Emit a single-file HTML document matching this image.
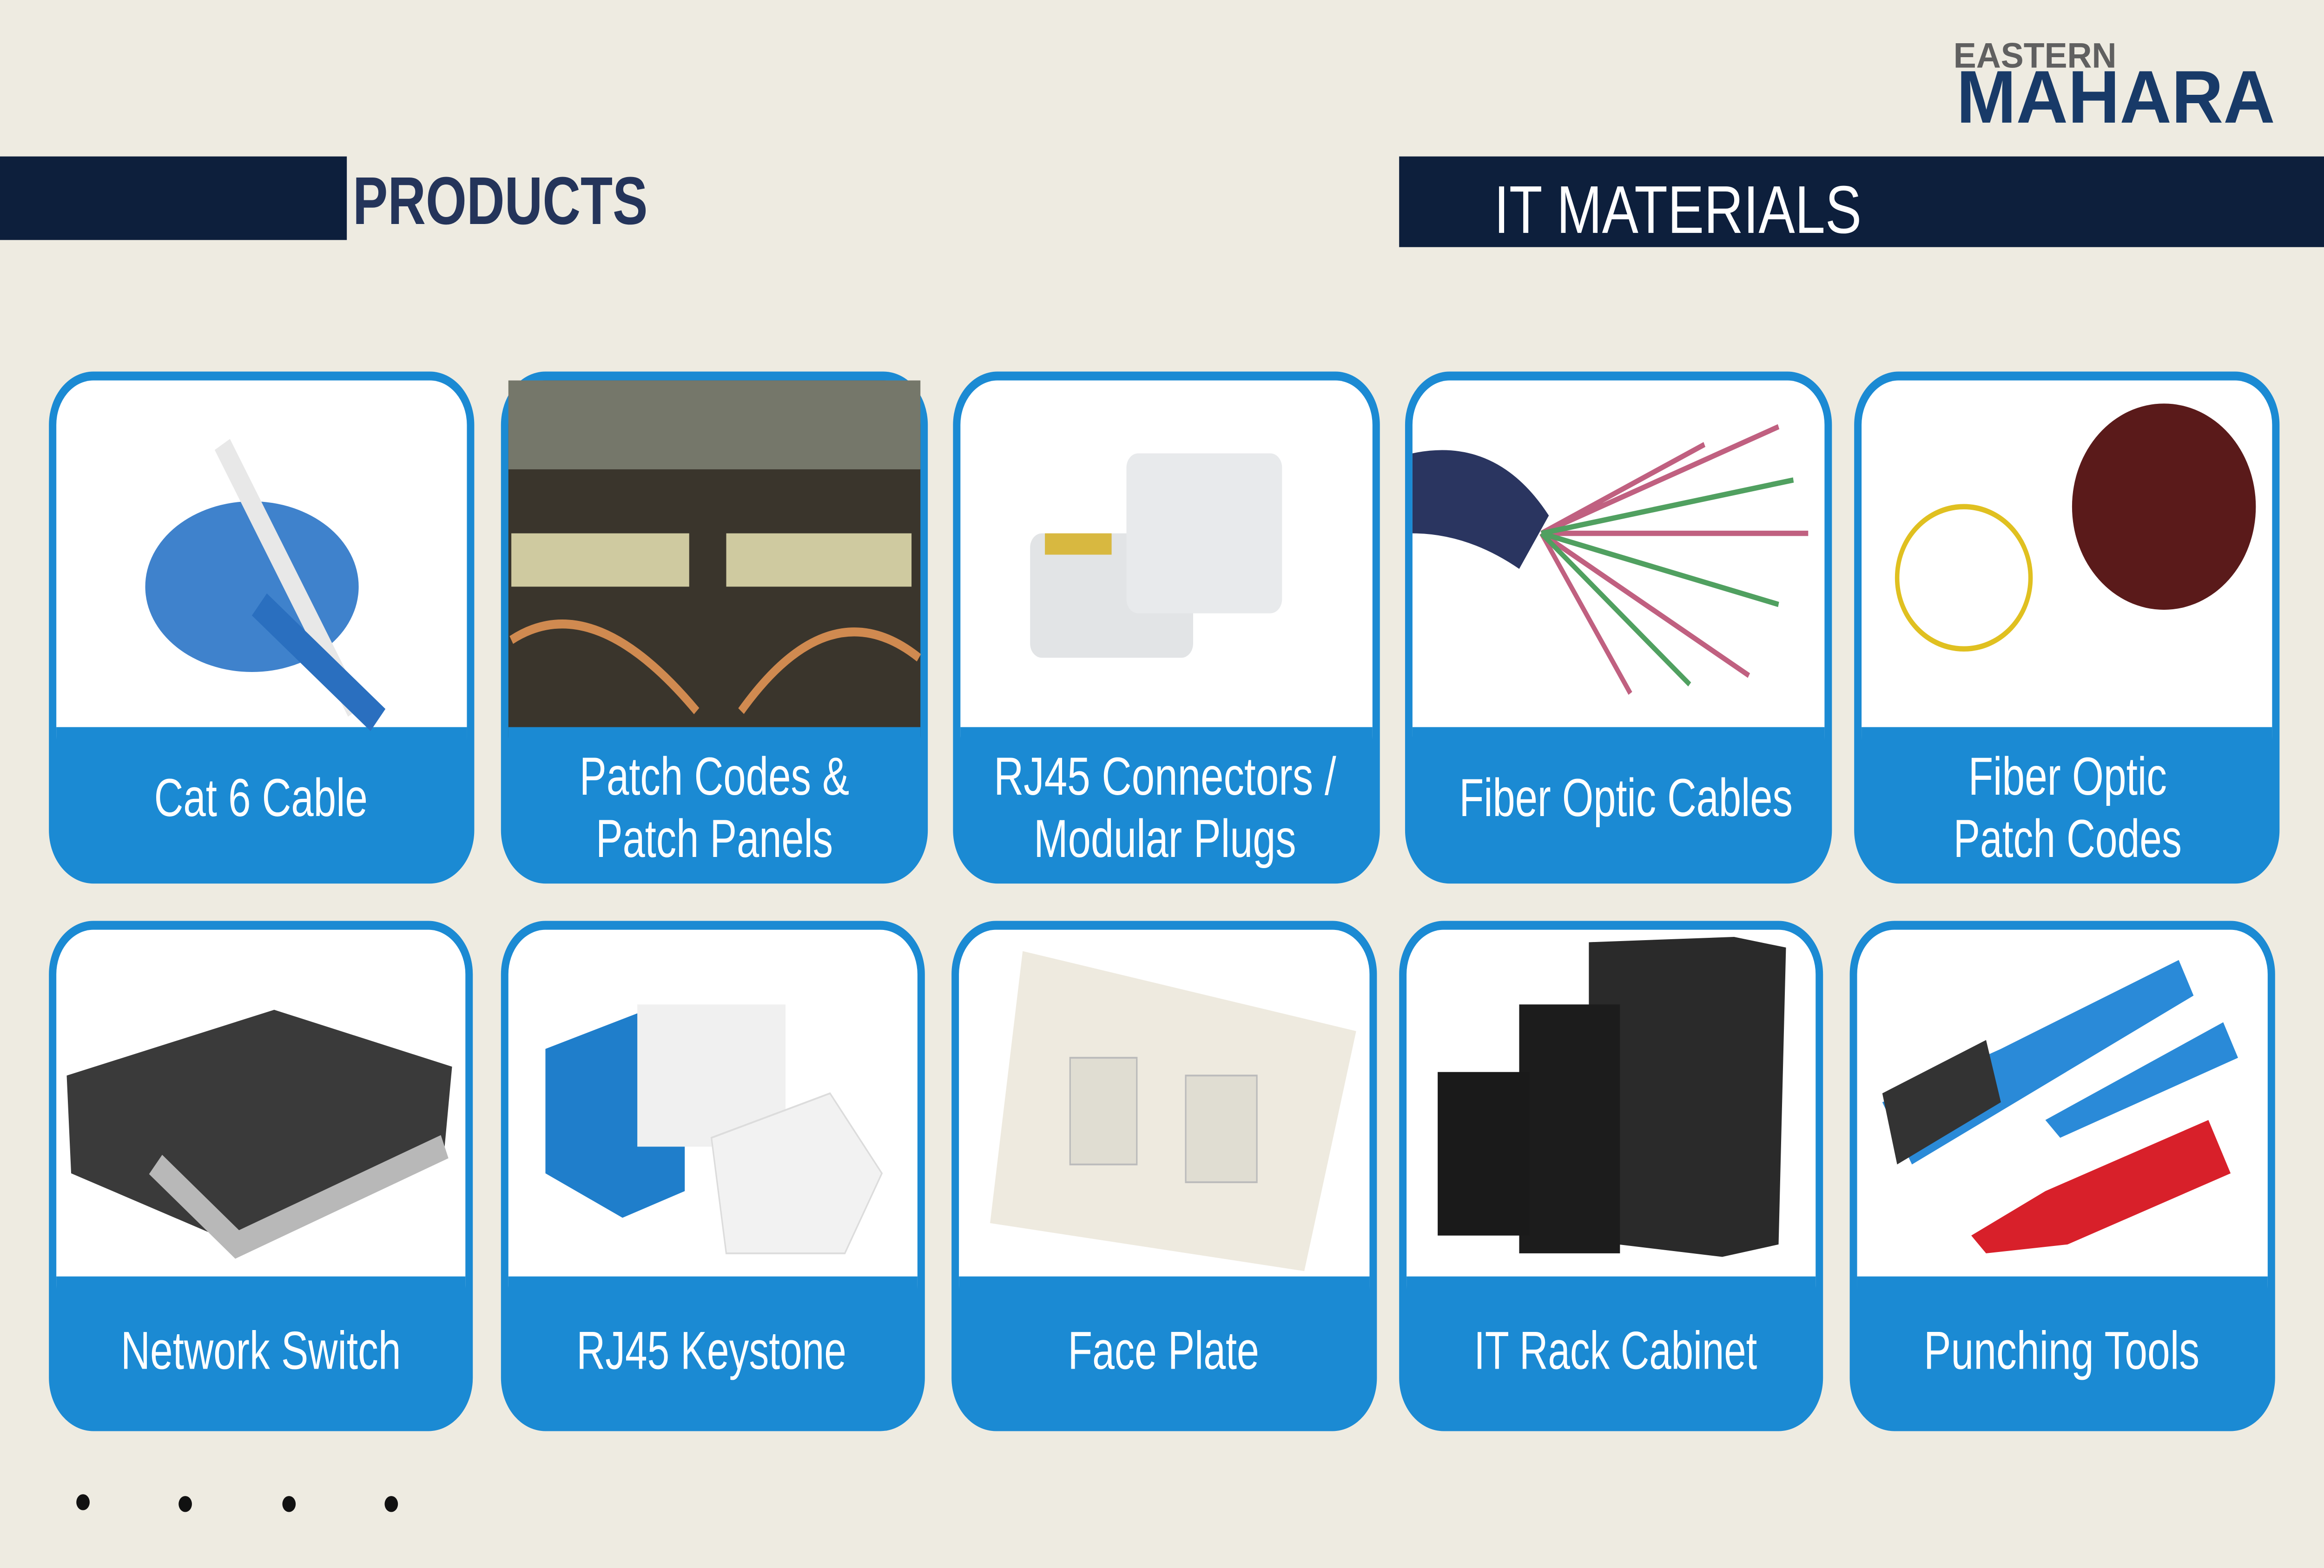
<!DOCTYPE html>
<html><head><meta charset="utf-8"><style>
html,body{margin:0;padding:0;background:#eeebe1;width:100%;height:100%;overflow:hidden;}
svg{display:block;position:fixed;left:0;top:0;width:100vw;height:100vh;}
text{font-family:"Liberation Sans Narrow","Liberation Sans",sans-serif;}
</style></head><body>
<svg viewBox="0 0 1568 882" preserveAspectRatio="none" xmlns="http://www.w3.org/2000/svg">
<rect width="1568" height="882" fill="#eeebe1"/>
<rect x="0" y="88" width="234" height="47" fill="#0d1f3c"/>
<text x="238" y="126" font-size="38" font-weight="bold" fill="#24345a" textLength="199" lengthAdjust="spacingAndGlyphs" style="font-family:'Liberation Sans',sans-serif">PRODUCTS</text>
<rect x="944" y="88" width="624" height="51" fill="#0d1f3c"/>
<text x="1008" y="131" font-size="38" fill="#fff" textLength="248" lengthAdjust="spacingAndGlyphs" style="font-family:'Liberation Sans',sans-serif">IT MATERIALS</text>
<text x="1318" y="38" font-size="20" font-weight="bold" fill="#606060" textLength="110" lengthAdjust="spacingAndGlyphs" style="font-family:'Liberation Sans',sans-serif">EASTERN</text>
<text x="1320" y="69" font-size="42" font-weight="bold" fill="#183a68" textLength="215" lengthAdjust="spacingAndGlyphs" style="font-family:'Liberation Sans',sans-serif">MAHARA</text>

<g>
<rect x="33" y="209" width="287" height="288" rx="30" fill="#1b8ad3"/>
<rect x="38" y="214" width="277" height="225" rx="25" fill="#fff"/><rect x="38" y="409" width="277" height="40" fill="#1b8ad3"/>
<ellipse cx="170" cy="330" rx="72" ry="48" fill="#3f82cc"/>
<path d="M150 250 L240 400" stroke="#e8e8e8" stroke-width="12"/><path d="M175 340 L255 405" stroke="#2a6fbf" stroke-width="16"/>
<text x="176" y="459" font-size="30" fill="#fff" text-anchor="middle" textLength="144" lengthAdjust="spacingAndGlyphs">Cat 6 Cable</text>

<rect x="338" y="209" width="288" height="288" rx="30" fill="#1b8ad3"/>
<rect x="343" y="214" width="278" height="225" rx="25" fill="#3a352c"/><rect x="343" y="409" width="278" height="40" fill="#1b8ad3"/>
<rect x="343" y="214" width="278" height="50" fill="#75776a"/>
<rect x="345" y="300" width="120" height="30" fill="#cfcaa0"/><rect x="490" y="300" width="125" height="30" fill="#cfcaa0"/>
<path d="M345 360 Q400 330 470 400 M500 400 Q560 330 620 370" stroke="#d08a50" stroke-width="5" fill="none"/>
<text x="482" y="447" font-size="30" fill="#fff" text-anchor="middle" textLength="182" lengthAdjust="spacingAndGlyphs">Patch Codes &amp;</text>
<text x="482" y="482" font-size="30" fill="#fff" text-anchor="middle" textLength="160" lengthAdjust="spacingAndGlyphs">Patch Panels</text>

<rect x="643" y="209" width="288" height="288" rx="30" fill="#1b8ad3"/>
<rect x="648" y="214" width="278" height="225" rx="25" fill="#fff"/><rect x="648" y="409" width="278" height="40" fill="#1b8ad3"/>
<rect x="695" y="300" width="110" height="70" rx="8" fill="#e2e4e6"/><rect x="760" y="255" width="105" height="90" rx="8" fill="#e8eaec"/>
<rect x="705" y="300" width="45" height="12" fill="#d8b840"/>
<text x="786" y="447" font-size="30" fill="#fff" text-anchor="middle" textLength="231" lengthAdjust="spacingAndGlyphs">RJ45 Connectors /</text>
<text x="786" y="482" font-size="30" fill="#fff" text-anchor="middle" textLength="177" lengthAdjust="spacingAndGlyphs">Modular Plugs</text>

<rect x="948" y="209" width="288" height="288" rx="30" fill="#1b8ad3"/>
<rect x="953" y="214" width="278" height="225" rx="25" fill="#fff"/><rect x="953" y="409" width="278" height="40" fill="#1b8ad3"/>
<path d="M953 255 Q1010 245 1045 290 L1025 320 Q990 300 953 300 Z" fill="#2a3560"/>
<path d="M1040 300 L1200 240 M1040 300 L1220 300 M1040 300 L1180 380 M1040 300 L1100 390 M1040 300 L1150 250" stroke="#c06080" stroke-width="3"/>
<path d="M1040 300 L1210 270 M1040 300 L1200 340 M1040 300 L1140 385" stroke="#50a060" stroke-width="3"/>
<text x="1097" y="459" font-size="30" fill="#fff" text-anchor="middle" textLength="225" lengthAdjust="spacingAndGlyphs">Fiber Optic Cables</text>

<rect x="1251" y="209" width="287" height="288" rx="30" fill="#1b8ad3"/>
<rect x="1256" y="214" width="277" height="225" rx="25" fill="#fff"/><rect x="1256" y="409" width="277" height="40" fill="#1b8ad3"/>
<ellipse cx="1460" cy="285" rx="62" ry="58" fill="#5a1a1a"/>
<ellipse cx="1325" cy="325" rx="45" ry="40" fill="none" stroke="#e0c020" stroke-width="3"/>
<text x="1395" y="447" font-size="30" fill="#fff" text-anchor="middle" textLength="134" lengthAdjust="spacingAndGlyphs">Fiber Optic</text>
<text x="1395" y="482" font-size="30" fill="#fff" text-anchor="middle" textLength="154" lengthAdjust="spacingAndGlyphs">Patch Codes</text>
</g>

<g>
<rect x="33" y="518" width="286" height="287" rx="30" fill="#1b8ad3"/>
<rect x="38" y="523" width="276" height="225" rx="25" fill="#fff"/><rect x="38" y="718" width="276" height="40" fill="#1b8ad3"/>
<path d="M45 605 L185 568 L305 600 L300 645 L160 700 L48 660 Z" fill="#3a3a3a"/>
<path d="M105 655 L160 700 L300 645" stroke="#b8b8b8" stroke-width="14" fill="none"/>
<text x="176" y="770" font-size="30" fill="#fff" text-anchor="middle" textLength="189" lengthAdjust="spacingAndGlyphs">Network Switch</text>

<rect x="338" y="518" width="286" height="287" rx="30" fill="#1b8ad3"/>
<rect x="343" y="523" width="276" height="225" rx="25" fill="#fff"/><rect x="343" y="718" width="276" height="40" fill="#1b8ad3"/>
<path d="M368 590 L430 570 L462 585 L462 670 L420 685 L368 660 Z" fill="#1f7ecb"/>
<rect x="430" y="565" width="100" height="80" fill="#f0f0f0"/>
<path d="M480 640 L560 615 L595 660 L570 705 L490 705 Z" fill="#f2f2f2" stroke="#dcdcdc"/>
<text x="480" y="770" font-size="30" fill="#fff" text-anchor="middle" textLength="182" lengthAdjust="spacingAndGlyphs">RJ45 Keystone</text>

<rect x="642" y="518" width="287" height="287" rx="30" fill="#1b8ad3"/>
<rect x="647" y="523" width="277" height="225" rx="25" fill="#fff"/><rect x="647" y="718" width="277" height="40" fill="#1b8ad3"/>
<path d="M690 535 L915 580 L880 715 L668 688 Z" fill="#eeeadf"/>
<rect x="722" y="595" width="45" height="60" fill="#e0ddd2" stroke="#bbb"/><rect x="800" y="605" width="48" height="60" fill="#e0ddd2" stroke="#bbb"/>
<text x="785" y="770" font-size="30" fill="#fff" text-anchor="middle" textLength="129" lengthAdjust="spacingAndGlyphs">Face Plate</text>

<rect x="944" y="518" width="286" height="287" rx="30" fill="#1b8ad3"/>
<rect x="949" y="523" width="276" height="225" rx="25" fill="#fff"/><rect x="949" y="718" width="276" height="40" fill="#1b8ad3"/>
<path d="M1072 530 L1170 527 L1205 533 L1200 700 L1162 707 L1072 698 Z" fill="#2a2a2a"/>
<rect x="1025" y="565" width="68" height="140" fill="#1c1c1c"/>
<rect x="970" y="603" width="62" height="92" fill="#1a1a1a"/>
<text x="1090" y="770" font-size="30" fill="#fff" text-anchor="middle" textLength="191" lengthAdjust="spacingAndGlyphs">IT Rack Cabinet</text>

<rect x="1248" y="518" width="287" height="287" rx="30" fill="#1b8ad3"/>
<rect x="1253" y="523" width="277" height="225" rx="25" fill="#fff"/><rect x="1253" y="718" width="277" height="40" fill="#1b8ad3"/>
<path d="M1270 620 L1350 590 L1470 540 L1480 560 L1370 615 L1290 655 Z" fill="#2a8ad8"/>
<path d="M1380 630 L1500 575 L1510 595 L1390 640 Z" fill="#2a8ad8"/>
<path d="M1270 615 L1340 585 L1350 620 L1280 655 Z" fill="#333"/>
<path d="M1330 695 L1380 670 L1490 630 L1505 660 L1395 700 L1340 705 Z" fill="#d8202a"/>
<text x="1391" y="770" font-size="30" fill="#fff" text-anchor="middle" textLength="186" lengthAdjust="spacingAndGlyphs">Punching Tools</text>
</g>

<circle cx="56" cy="845" r="4.5" fill="#111"/>
<circle cx="125" cy="846" r="4.5" fill="#111"/>
<circle cx="195" cy="846" r="4.5" fill="#111"/>
<circle cx="264" cy="846" r="4.5" fill="#111"/>
</svg>
</body></html>
